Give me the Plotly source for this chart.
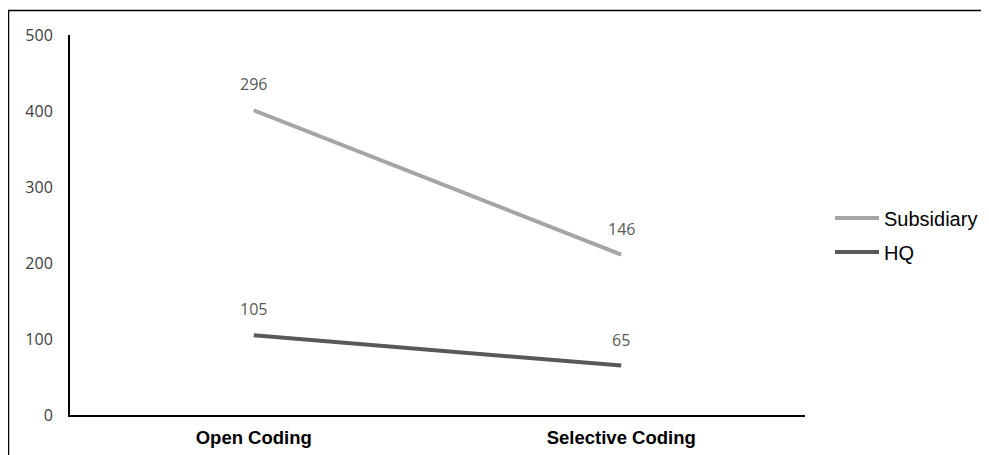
import plotly.graph_objects as go

categories = ["Open Coding", "Selective Coding"]
hq = [105, 65]
subsidiary = [296, 146]
y_ticks = [0, 100, 200, 300, 400, 500]

fig = go.Figure()

# HQ first (bottom of stack), Subsidiary stacked on top
fig.add_trace(go.Scatter(
    x=categories, y=hq, name="HQ", mode="lines",
    stackgroup="s", fill="none",
    line=dict(color="#595959", width=4),
    legendgroup="b", legendrank=2,
))
fig.add_trace(go.Scatter(
    x=categories, y=subsidiary, name="Subsidiary", mode="lines",
    stackgroup="s", fill="none",
    line=dict(color="#A5A5A5", width=4),
    legendgroup="a", legendrank=1,
))

# data labels (own value, placed above stacked position)
cum = [h + s for h, s in zip(hq, subsidiary)]
for c, h, s, top in zip(categories, hq, subsidiary, cum):
    fig.add_annotation(x=c, y=h, text=str(h), showarrow=False, yshift=26,
                       font=dict(family="Open Sans", size=16, color="#595959"))
    fig.add_annotation(x=c, y=top, text=str(s), showarrow=False, yshift=26,
                       font=dict(family="Open Sans", size=16, color="#595959"))

L, R, T, B = 62, 192, 27, 48
W, H = 989, 455
pw, ph = W - L - R, H - T - B

def px_x(p):
    return (p - L) / pw

def px_y(p):
    return (H - B - p) / ph

# outer frame (top and left edges visible)
fig.add_shape(type="rect", xref="paper", yref="paper",
              x0=px_x(0.5), x1=px_x(1100), y0=px_y(600), y1=px_y(2.5),
              line=dict(color="black", width=1.5), fillcolor="rgba(0,0,0,0)")

fig.update_layout(
    width=W, height=H, autosize=False,
    margin=dict(l=L, r=R, t=T, b=B),
    plot_bgcolor="white", paper_bgcolor="white",
    showlegend=True,
    legend=dict(x=px_x(822), y=px_y(227), xanchor="left", yanchor="middle",
                traceorder="grouped", tracegroupgap=5,
                font=dict(family="Liberation Sans", size=20, color="#000000"),
                itemwidth=44),
    xaxis=dict(range=[-0.5, 1.5], showline=True, linecolor="black", linewidth=2,
               showgrid=False, zeroline=False, ticks="",
               tickfont=dict(family="Liberation Sans", size=18.5, color="black", weight="bold"),
               ticklabelstandoff=5),
    yaxis=dict(range=[0, 500], tickvals=y_ticks, showline=True, linecolor="black",
               linewidth=2, showgrid=False, zeroline=False, ticks="",
               tickfont=dict(family="Open Sans", size=16, color="#404040"),
               ticklabelstandoff=12),
)

fig.write_html("out.html")
